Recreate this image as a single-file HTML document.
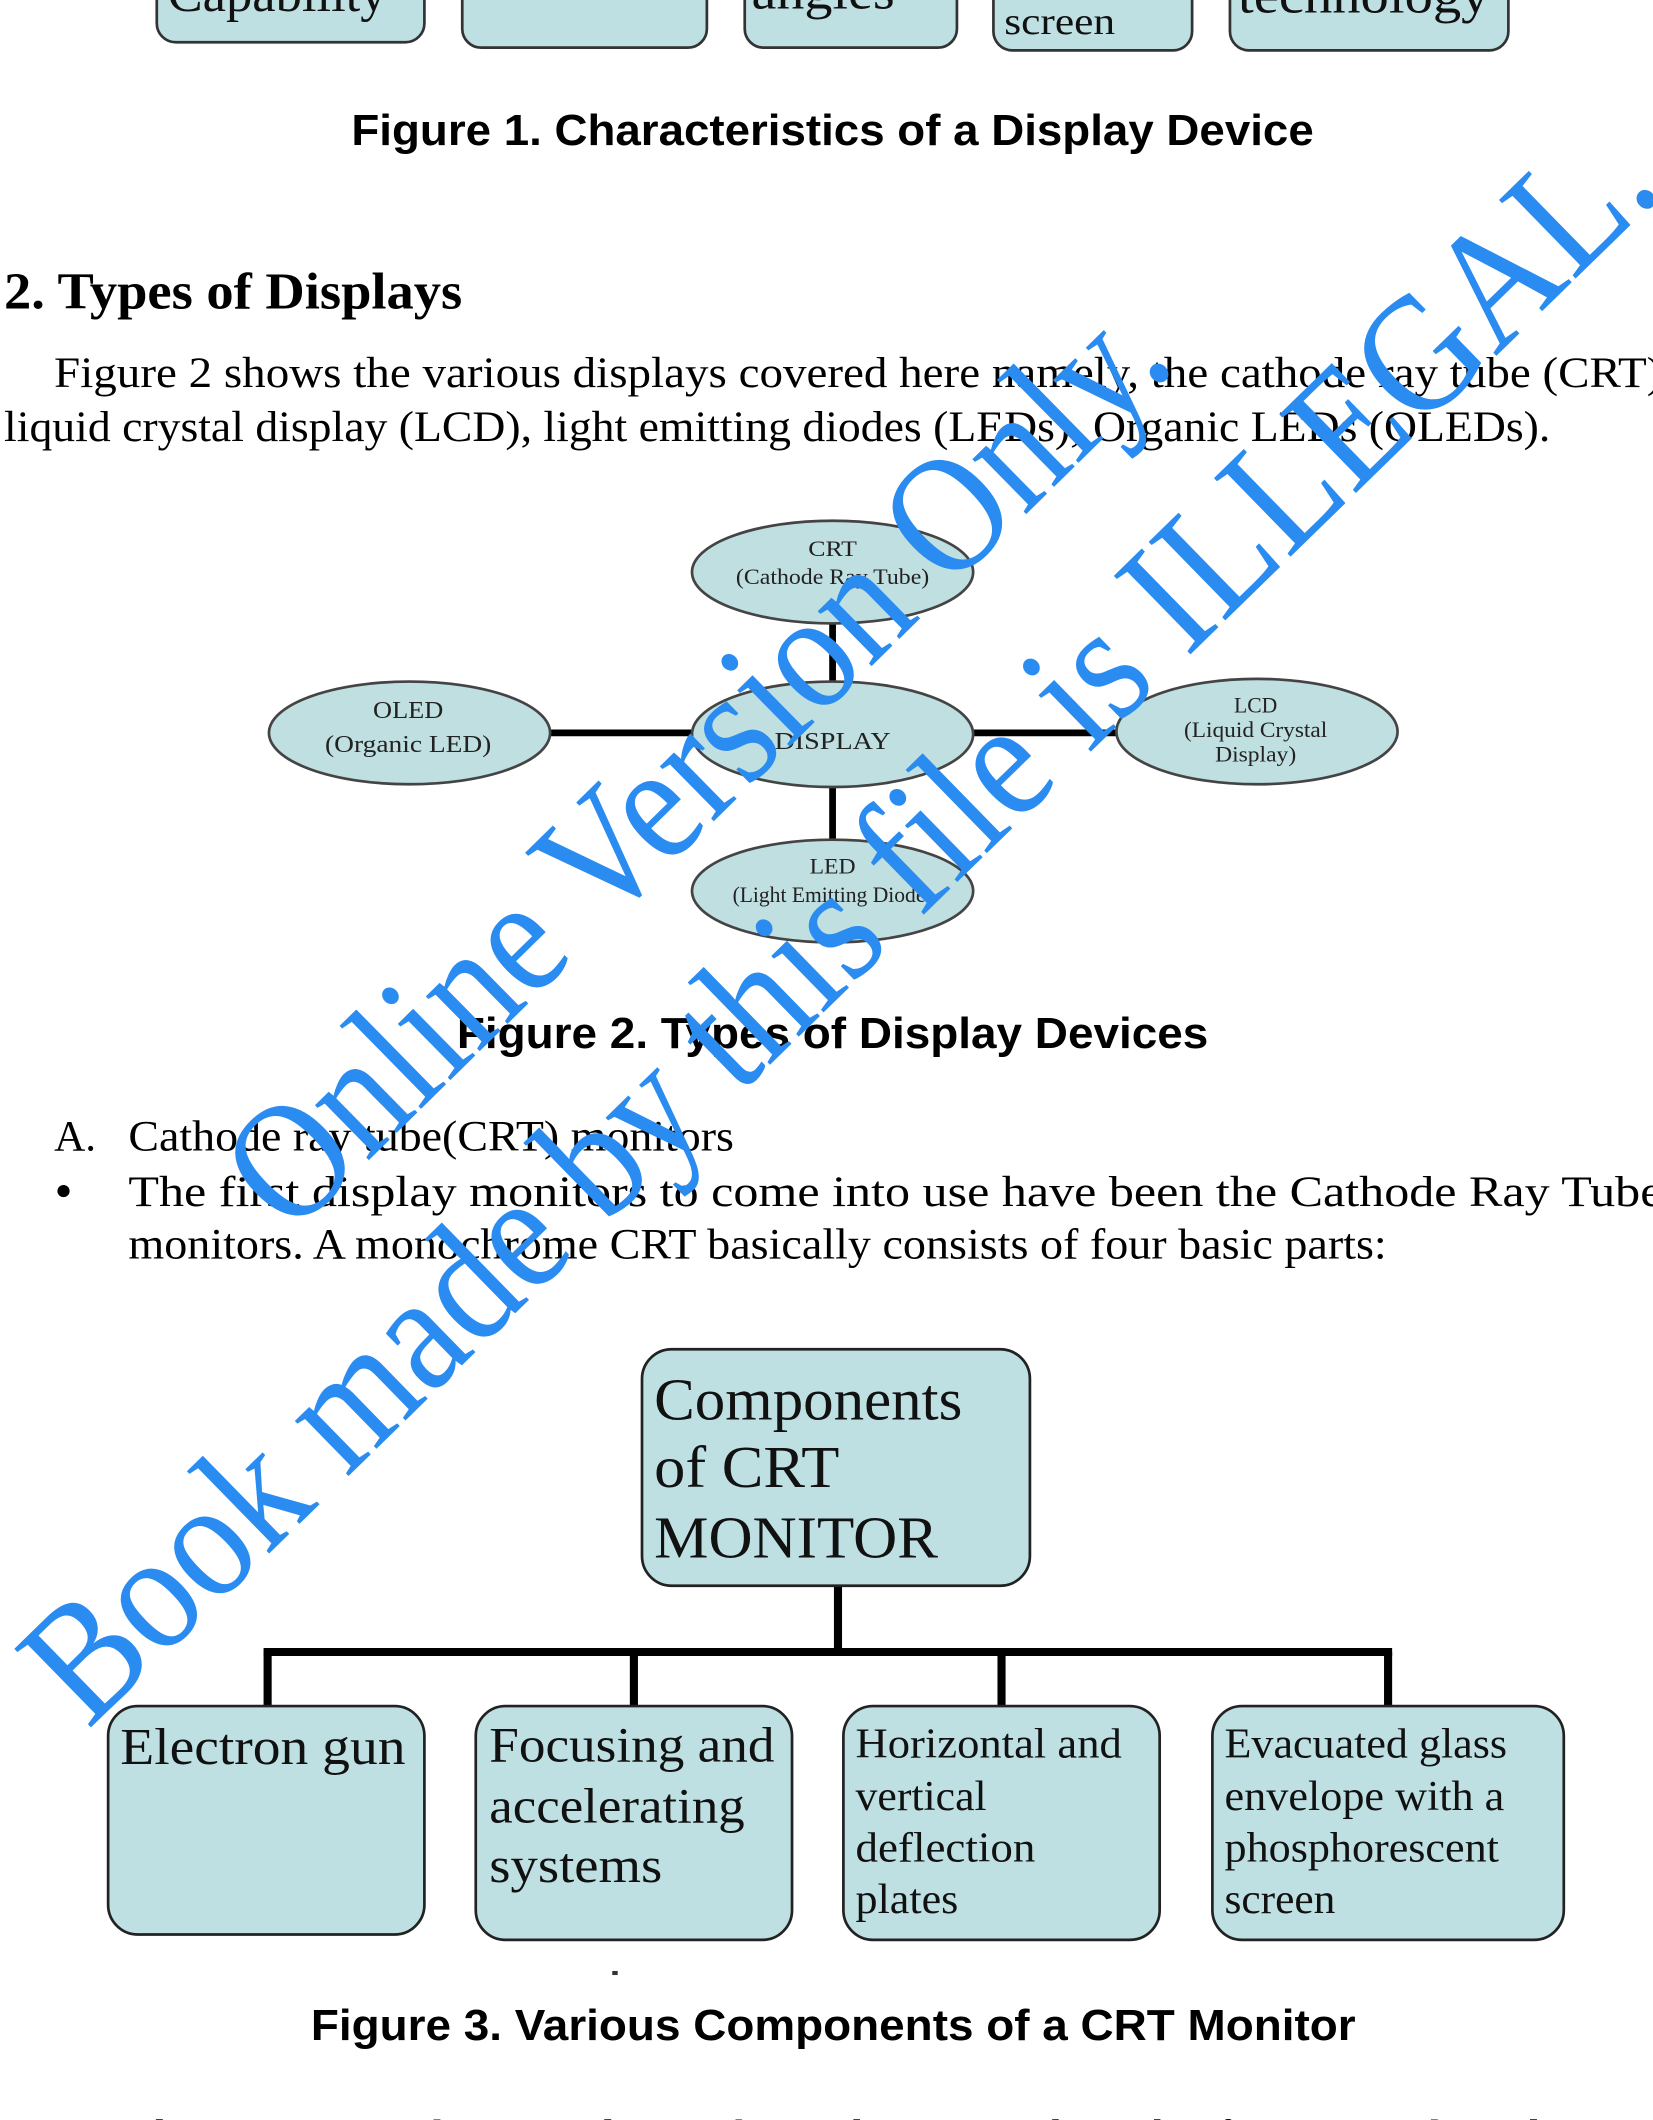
<!DOCTYPE html>
<html><head><meta charset="utf-8"><style>html,body{margin:0;padding:0;background:#fff}svg{display:block}</style></head>
<body>
<svg width="1653" height="2120" viewBox="0 0 1223 1568" xmlns="http://www.w3.org/2000/svg">
<rect width="1223" height="1568" fill="#fff"/>
<g fill="#bfe0e2" stroke="#333" stroke-width="2">
<rect x="116" y="-30" width="198" height="61" rx="14"/>
<rect x="342" y="-30" width="181" height="65" rx="14"/>
<rect x="551" y="-30" width="157" height="65" rx="14"/>
<rect x="735" y="-30" width="147" height="67" rx="14"/>
<rect x="910" y="-30" width="206" height="67" rx="14"/>
</g>
<g font-family="Liberation Serif, serif" fill="#111">
<text x="124" y="8" font-size="38" textLength="162" lengthAdjust="spacingAndGlyphs">Capability</text>
<text x="556" y="6" font-size="38" textLength="106" lengthAdjust="spacingAndGlyphs">angles</text>
<text x="743" y="25" font-size="28" textLength="82" lengthAdjust="spacingAndGlyphs">screen</text>
<text x="916" y="9" font-size="38" textLength="186" lengthAdjust="spacingAndGlyphs">technology</text>
</g>
<g font-family="Liberation Sans, Arial, sans-serif" font-weight="bold" font-size="32" fill="#000">
<text x="260" y="107" textLength="712" lengthAdjust="spacingAndGlyphs">Figure 1. Characteristics of a Display Device</text>
<text x="338" y="775" textLength="556" lengthAdjust="spacingAndGlyphs">Figure 2. Types of Display Devices</text>
<text x="230" y="1509" textLength="773" lengthAdjust="spacingAndGlyphs">Figure 3. Various Components of a CRT Monitor</text>
</g>
<g font-family="Liberation Serif, serif" fill="#000">
<text x="3" y="228" font-size="38" font-weight="bold" textLength="339" lengthAdjust="spacingAndGlyphs">2. Types of Displays</text>
<text x="40" y="286" font-size="32" textLength="1190" lengthAdjust="spacingAndGlyphs">Figure 2 shows the various displays covered here namely, the cathode ray tube (CRT)</text>
<text x="3" y="326" font-size="32" textLength="1144" lengthAdjust="spacingAndGlyphs">liquid crystal display (LCD), light emitting diodes (LEDs), Organic LEDs (OLEDs).</text>
<text x="40" y="851" font-size="32">A.</text>
<text x="95" y="851" font-size="32" textLength="448" lengthAdjust="spacingAndGlyphs">Cathode ray tube(CRT) monitors</text>
<circle cx="47" cy="881" r="4.5"/>
<text x="95" y="892" font-size="32" textLength="1135" lengthAdjust="spacingAndGlyphs">The first display monitors to come into use have been the Cathode Ray Tube</text>
<text x="95" y="931" font-size="32" textLength="931" lengthAdjust="spacingAndGlyphs">monitors. A monochrome CRT basically consists of four basic parts:</text>
<text x="95" y="1590" font-size="32" textLength="1135" lengthAdjust="spacingAndGlyphs">Electron gun produces an electron beam that passes through a focusing and accelerating</text>
</g>
<!-- Figure 2 -->
<g stroke="#000" stroke-width="5">
<line x1="616" y1="459" x2="616" y2="507"/>
<line x1="616" y1="579" x2="616" y2="623"/>
<line x1="405" y1="542" x2="514" y2="542"/>
<line x1="718" y1="542" x2="828" y2="542"/>
</g>
<g fill="#c0dfe1" stroke="#444" stroke-width="2">
<ellipse cx="616" cy="423" rx="104" ry="38"/>
<ellipse cx="303" cy="542" rx="104" ry="38"/>
<ellipse cx="930" cy="541" rx="104" ry="39"/>
<ellipse cx="616" cy="659" rx="104" ry="38"/>
<ellipse cx="616" cy="543" rx="104" ry="39"/>
</g>
<g font-family="Liberation Serif, serif" font-size="16" fill="#222" text-anchor="middle">
<text x="616" y="411" textLength="36" lengthAdjust="spacingAndGlyphs">CRT</text>
<text x="616" y="432" textLength="143" lengthAdjust="spacingAndGlyphs">(Cathode Ray Tube)</text>
<text x="616" y="554" font-size="18" textLength="86" lengthAdjust="spacingAndGlyphs">DISPLAY</text>
<text x="302" y="531" font-size="18" textLength="52" lengthAdjust="spacingAndGlyphs">OLED</text>
<text x="302" y="556" font-size="18" textLength="123" lengthAdjust="spacingAndGlyphs">(Organic LED)</text>
<text x="929" y="527" textLength="32" lengthAdjust="spacingAndGlyphs">LCD</text>
<text x="929" y="545" textLength="106" lengthAdjust="spacingAndGlyphs">(Liquid Crystal</text>
<text x="929" y="563" textLength="60" lengthAdjust="spacingAndGlyphs">Display)</text>
<text x="616" y="646" textLength="34" lengthAdjust="spacingAndGlyphs">LED</text>
<text x="616" y="667" textLength="148" lengthAdjust="spacingAndGlyphs">(Light Emitting Diode)</text>
</g>
<!-- Figure 3 -->
<g stroke="#000" stroke-width="6" fill="none">
<line x1="620" y1="1173" x2="620" y2="1222"/>
<line x1="195" y1="1222" x2="1030" y2="1222"/>
<line x1="198" y1="1222" x2="198" y2="1262"/>
<line x1="469" y1="1222" x2="469" y2="1262"/>
<line x1="741" y1="1222" x2="741" y2="1262"/>
<line x1="1027" y1="1222" x2="1027" y2="1262"/>
</g>
<g fill="#bfe0e2" stroke="#222" stroke-width="2">
<rect x="475" y="998" width="287" height="175" rx="22"/>
<rect x="80" y="1262" width="234" height="169" rx="22"/>
<rect x="352" y="1262" width="234" height="173" rx="22"/>
<rect x="624" y="1262" width="234" height="173" rx="22"/>
<rect x="897" y="1262" width="260" height="173" rx="22"/>
</g>
<g font-family="Liberation Serif, serif" fill="#111">
<text x="484" y="1050" font-size="44" textLength="228" lengthAdjust="spacingAndGlyphs">Components</text>
<text x="484" y="1100" font-size="44" textLength="137" lengthAdjust="spacingAndGlyphs">of CRT</text>
<text x="484" y="1152" font-size="44" textLength="210" lengthAdjust="spacingAndGlyphs">MONITOR</text>
<text x="89" y="1305" font-size="38" textLength="211" lengthAdjust="spacingAndGlyphs">Electron gun</text>
<text x="362" y="1303" font-size="37" textLength="211" lengthAdjust="spacingAndGlyphs">Focusing and</text>
<text x="362" y="1348" font-size="37" textLength="189" lengthAdjust="spacingAndGlyphs">accelerating</text>
<text x="362" y="1392" font-size="37" textLength="128" lengthAdjust="spacingAndGlyphs">systems</text>
<text x="633" y="1300" font-size="31" textLength="197" lengthAdjust="spacingAndGlyphs">Horizontal and</text>
<text x="633" y="1339" font-size="31" textLength="97" lengthAdjust="spacingAndGlyphs">vertical</text>
<text x="633" y="1377" font-size="31" textLength="133" lengthAdjust="spacingAndGlyphs">deflection</text>
<text x="633" y="1415" font-size="31" textLength="76" lengthAdjust="spacingAndGlyphs">plates</text>
<text x="906" y="1300" font-size="31" textLength="209" lengthAdjust="spacingAndGlyphs">Evacuated glass</text>
<text x="906" y="1339" font-size="31" textLength="207" lengthAdjust="spacingAndGlyphs">envelope with a</text>
<text x="906" y="1377" font-size="31" textLength="203" lengthAdjust="spacingAndGlyphs">phosphorescent</text>
<text x="906" y="1415" font-size="31" textLength="82" lengthAdjust="spacingAndGlyphs">screen</text>
</g>
<rect x="453" y="1458" width="4" height="3" fill="#333"/>
<!-- watermark -->
<g font-family="Liberation Serif, serif" fill="#2a8cf0" font-size="124">
<text transform="translate(215,915) rotate(-44.5)" textLength="920" lengthAdjust="spacingAndGlyphs">Online Version Only.</text>
<text transform="translate(65,1280) rotate(-44.3)" textLength="1630" lengthAdjust="spacingAndGlyphs">Book made by this file is ILLEGAL.</text>
</g>
</svg>
</body></html>
